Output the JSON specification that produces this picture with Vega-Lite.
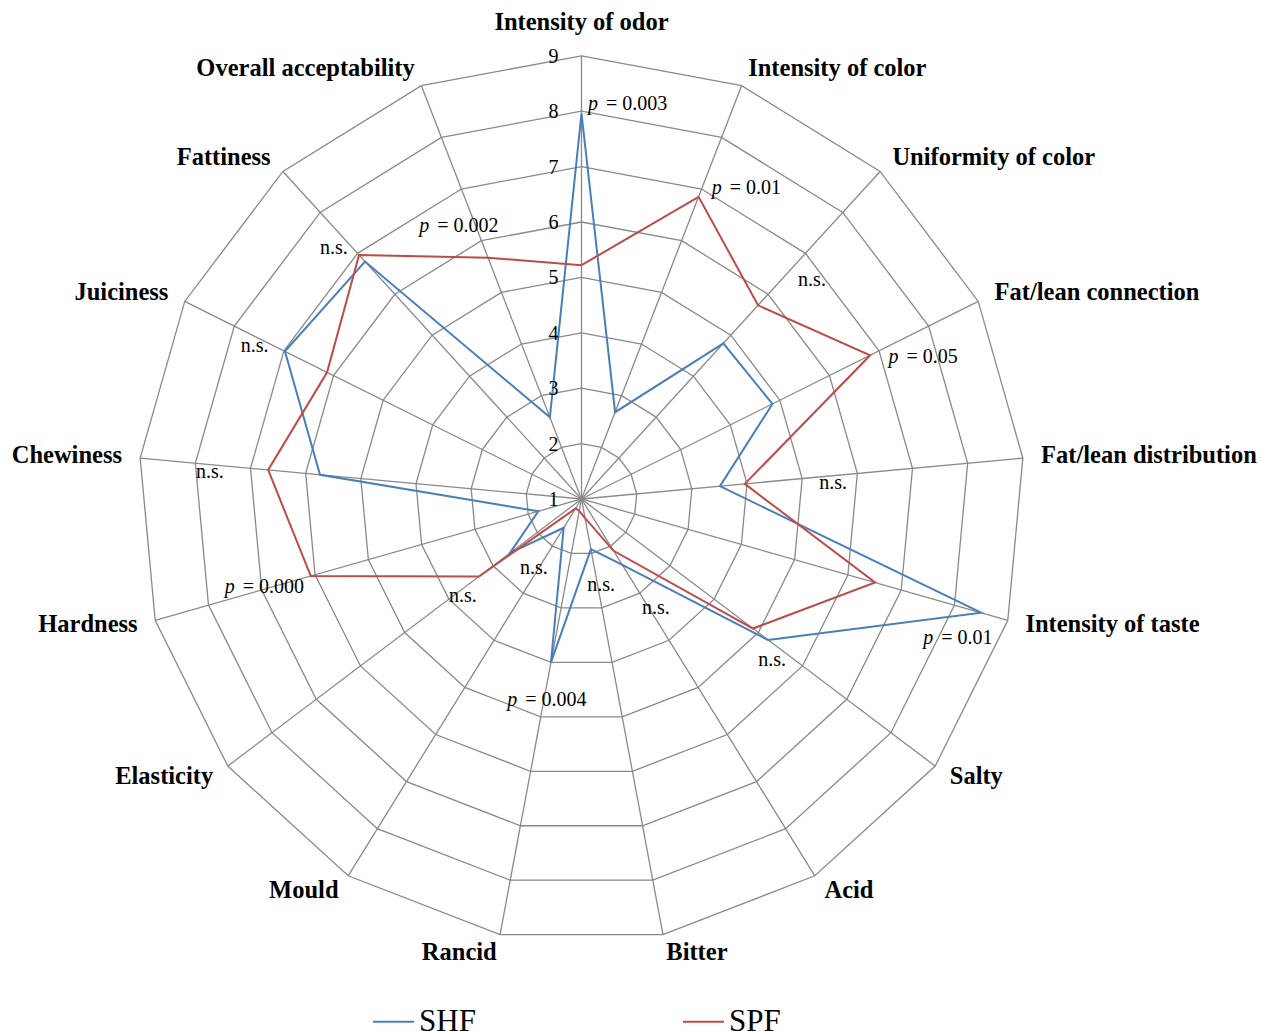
{
  "$schema": "https://vega.github.io/schema/vega-lite/v6.json",
  "width": 1261,
  "height": 1031,
  "autosize": "none",
  "padding": 0,
  "background": "white",
  "config": {"view": {"stroke": null}, "font": "Liberation Serif"},
  "datasets": {
    "axes": [
      {"axis": "Intensity of odor", "k": 0, "rings": [2,3,4,5,6,7,8,9]},
      {"axis": "Intensity of color", "k": 1, "rings": [2,3,4,5,6,7,8,9]},
      {"axis": "Uniformity of color", "k": 2, "rings": [2,3,4,5,6,7,8,9]},
      {"axis": "Fat/lean connection", "k": 3, "rings": [2,3,4,5,6,7,8,9]},
      {"axis": "Fat/lean distribution", "k": 4, "rings": [2,3,4,5,6,7,8,9]},
      {"axis": "Intensity of taste", "k": 5, "rings": [2,3,4,5,6,7,8,9]},
      {"axis": "Salty", "k": 6, "rings": [2,3,4,5,6,7,8,9]},
      {"axis": "Acid", "k": 7, "rings": [2,3,4,5,6,7,8,9]},
      {"axis": "Bitter", "k": 8, "rings": [2,3,4,5,6,7,8,9]},
      {"axis": "Rancid", "k": 9, "rings": [2,3,4,5,6,7,8,9]},
      {"axis": "Mould", "k": 10, "rings": [2,3,4,5,6,7,8,9]},
      {"axis": "Elasticity", "k": 11, "rings": [2,3,4,5,6,7,8,9]},
      {"axis": "Hardness", "k": 12, "rings": [2,3,4,5,6,7,8,9]},
      {"axis": "Chewiness", "k": 13, "rings": [2,3,4,5,6,7,8,9]},
      {"axis": "Juiciness", "k": 14, "rings": [2,3,4,5,6,7,8,9]},
      {"axis": "Fattiness", "k": 15, "rings": [2,3,4,5,6,7,8,9]},
      {"axis": "Overall acceptability", "k": 16, "rings": [2,3,4,5,6,7,8,9]}
    ],
    "scores": [
      {"axis": "Intensity of odor", "SHF": 7.96, "SPF": 5.22},
      {"axis": "Intensity of color", "SHF": 2.68, "SPF": 6.85},
      {"axis": "Uniformity of color", "SHF": 4.8, "SPF": 5.73},
      {"axis": "Fat/lean connection", "SHF": 4.85, "SPF": 6.82},
      {"axis": "Fat/lean distribution", "SHF": 3.51, "SPF": 3.96},
      {"axis": "Intensity of taste", "SHF": 8.5, "SPF": 6.51},
      {"axis": "Salty", "SHF": 5.22, "SPF": 4.88},
      {"axis": "Acid", "SHF": 2.4, "SPF": 2.1},
      {"axis": "Bitter", "SHF": 1.92, "SPF": 1.35},
      {"axis": "Rancid", "SHF": 4.0, "SPF": 1.22},
      {"axis": "Mould", "SHF": 1.61, "SPF": 1.2},
      {"axis": "Elasticity", "SHF": 2.62, "SPF": 3.32},
      {"axis": "Hardness", "SHF": 1.81, "SPF": 6.08},
      {"axis": "Chewiness", "SHF": 5.74, "SPF": 6.68},
      {"axis": "Juiciness", "SHF": 6.98, "SPF": 6.13},
      {"axis": "Fattiness", "SHF": 6.8, "SPF": 6.96},
      {"axis": "Overall acceptability", "SHF": 2.58, "SPF": 5.67}
    ],
    "ticks": [
      {"level": 1}, {"level": 2}, {"level": 3}, {"level": 4}, {"level": 5},
      {"level": 6}, {"level": 7}, {"level": 8}, {"level": 9}
    ],
    "notes": [
      {"axis": "Intensity of odor", "p": "0.003", "nx": 0.117, "ny": 7.13},
      {"axis": "Intensity of color", "p": "0.01", "nx": 2.35, "ny": 5.61},
      {"axis": "Uniformity of color", "p": null, "nx": 3.91, "ny": 3.95},
      {"axis": "Fat/lean connection", "p": "0.05", "nx": 5.54, "ny": 2.57},
      {"axis": "Fat/lean distribution", "p": null, "nx": 4.29, "ny": 0.28},
      {"axis": "Intensity of taste", "p": "0.01", "nx": 6.17, "ny": -2.51},
      {"axis": "Salty", "p": null, "nx": 3.19, "ny": -2.91},
      {"axis": "Acid", "p": null, "nx": 1.09, "ny": -1.97},
      {"axis": "Bitter", "p": null, "nx": 0.105, "ny": -1.55},
      {"axis": "Rancid", "p": "0.004", "nx": -1.34, "ny": -3.63},
      {"axis": "Mould", "p": null, "nx": -1.11, "ny": -1.25},
      {"axis": "Elasticity", "p": null, "nx": -2.39, "ny": -1.75},
      {"axis": "Hardness", "p": "0.000", "nx": -6.44, "ny": -1.58},
      {"axis": "Chewiness", "p": null, "nx": -6.96, "ny": 0.49},
      {"axis": "Juiciness", "p": null, "nx": -6.15, "ny": 2.76},
      {"axis": "Fattiness", "p": null, "nx": -4.72, "ny": 4.53},
      {"axis": "Overall acceptability", "p": "0.002", "nx": -2.93, "ny": 4.93}
    ]
  },
  "encoding": {
    "x": {"field": "x", "type": "quantitative", "scale": {"domain": [-10.496, 12.265], "nice": false, "zero": false}, "axis": null},
    "y": {"field": "y", "type": "quantitative", "scale": {"domain": [-9.603, 9.007], "nice": false, "zero": false}, "axis": null}
  },
  "layer": [
    {
      "data": {"name": "axes"},
      "transform": [
        {"calculate": "8*sin(datum.k*2*PI/17)", "as": "x"},
        {"calculate": "8*cos(datum.k*2*PI/17)", "as": "y"},
        {"calculate": "0", "as": "zero"}
      ],
      "mark": {"type": "rule", "color": "#898989", "strokeWidth": 1.3},
      "encoding": {"x2": {"field": "zero"}, "y2": {"field": "zero"}}
    },
    {
      "data": {"name": "axes"},
      "transform": [
        {"flatten": ["rings"], "as": ["ring"]},
        {"calculate": "(datum.ring-1)*sin(datum.k*2*PI/17)", "as": "x"},
        {"calculate": "(datum.ring-1)*cos(datum.k*2*PI/17)", "as": "y"}
      ],
      "mark": {"type": "line", "color": "#898989", "strokeWidth": 1.3, "interpolate": "linear-closed"},
      "encoding": {"detail": {"field": "ring", "type": "nominal"}, "order": {"field": "k", "type": "quantitative"}}
    },
    {
      "data": {"name": "scores"},
      "transform": [
        {"fold": ["SHF", "SPF"], "as": ["series", "value"]},
        {"lookup": "axis", "from": {"data": {"name": "axes"}, "key": "axis", "fields": ["k"]}},
        {"calculate": "(datum.value-1)*sin(datum.k*2*PI/17)", "as": "x"},
        {"calculate": "(datum.value-1)*cos(datum.k*2*PI/17)", "as": "y"}
      ],
      "mark": {"type": "line", "strokeWidth": 2, "interpolate": "linear-closed"},
      "encoding": {
        "color": {
          "field": "series", "type": "nominal",
          "scale": {"domain": ["SHF", "SPF"], "range": ["#4A7EBB", "#BE4B48"]},
          "legend": {
            "title": null, "orient": "none", "legendX": 372, "legendY": 1000,
            "direction": "horizontal", "symbolType": "stroke", "symbolSize": 1681,
            "symbolStrokeWidth": 2, "labelFont": "Liberation Serif", "labelFontSize": 31,
            "labelColor": "black", "labelOffset": 4, "columnPadding": 203, "padding": 0,
            "labelLimit": 0
          }
        },
        "order": {"field": "k", "type": "quantitative"}
      }
    },
    {
      "data": {"name": "ticks"},
      "transform": [
        {"calculate": "0", "as": "x"},
        {"calculate": "datum.level-1", "as": "y"}
      ],
      "mark": {"type": "text", "align": "right", "baseline": "middle", "dx": -23, "dy": 1, "fontSize": 20, "font": "Liberation Serif", "color": "black"},
      "encoding": {"text": {"field": "level", "type": "nominal"}}
    },
    {
      "data": {"name": "axes"},
      "transform": [
        {"filter": "datum.k == 0"},
        {"calculate": "8.6*sin(datum.k*2*PI/17)", "as": "x"},
        {"calculate": "8.6*cos(datum.k*2*PI/17)", "as": "y"}
      ],
      "mark": {"type": "text", "align": "center", "baseline": "middle", "fontSize": 24.5, "fontWeight": "bold", "font": "Liberation Serif", "color": "black"},
      "encoding": {"text": {"field": "axis", "type": "nominal"}}
    },
    {
      "data": {"name": "axes"},
      "transform": [
        {"filter": "datum.k >= 1 && datum.k <= 8"},
        {"calculate": "8.33*sin(datum.k*2*PI/17)", "as": "x"},
        {"calculate": "8.33*cos(datum.k*2*PI/17)", "as": "y"}
      ],
      "mark": {"type": "text", "align": "left", "baseline": "middle", "fontSize": 24.5, "fontWeight": "bold", "font": "Liberation Serif", "color": "black"},
      "encoding": {"text": {"field": "axis", "type": "nominal"}}
    },
    {
      "data": {"name": "axes"},
      "transform": [
        {"filter": "datum.k >= 9"},
        {"calculate": "8.33*sin(datum.k*2*PI/17)", "as": "x"},
        {"calculate": "8.33*cos(datum.k*2*PI/17)", "as": "y"}
      ],
      "mark": {"type": "text", "align": "right", "baseline": "middle", "fontSize": 24.5, "fontWeight": "bold", "font": "Liberation Serif", "color": "black"},
      "encoding": {"text": {"field": "axis", "type": "nominal"}}
    },
    {
      "data": {"name": "notes"},
      "transform": [
        {"filter": "datum.p == null"},
        {"calculate": "datum.nx", "as": "x"},
        {"calculate": "datum.ny", "as": "y"},
        {"calculate": "'n.s.'", "as": "label"}
      ],
      "mark": {"type": "text", "align": "left", "baseline": "middle", "fontSize": 20, "font": "Liberation Serif", "color": "black"},
      "encoding": {"text": {"field": "label", "type": "nominal"}}
    },
    {
      "data": {"name": "notes"},
      "transform": [
        {"filter": "datum.p != null"},
        {"calculate": "datum.nx", "as": "x"},
        {"calculate": "datum.ny", "as": "y"},
        {"calculate": "'p'", "as": "label"}
      ],
      "mark": {"type": "text", "align": "left", "baseline": "middle", "fontSize": 20, "fontStyle": "italic", "font": "Liberation Serif", "color": "black"},
      "encoding": {"text": {"field": "label", "type": "nominal"}}
    },
    {
      "data": {"name": "notes"},
      "transform": [
        {"filter": "datum.p != null"},
        {"calculate": "datum.nx", "as": "x"},
        {"calculate": "datum.ny", "as": "y"},
        {"calculate": "'= ' + datum.p", "as": "label"}
      ],
      "mark": {"type": "text", "align": "left", "baseline": "middle", "dx": 18, "fontSize": 20, "font": "Liberation Serif", "color": "black"},
      "encoding": {"text": {"field": "label", "type": "nominal"}}
    }
  ]
}
